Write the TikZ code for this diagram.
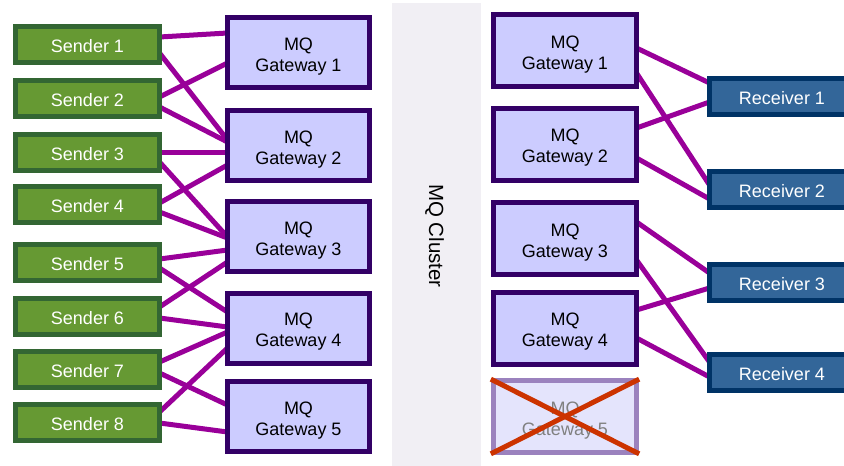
\documentclass[tikz,border=0pt]{standalone}
\usepackage{fontspec}
\setmainfont{Liberation Sans}
\usetikzlibrary{calc}
\definecolor{sendfill}{HTML}{669933}
\definecolor{sendline}{HTML}{336633}
\definecolor{gwfill}{HTML}{CCCCFF}
\definecolor{gwline}{HTML}{330066}
\definecolor{recvfill}{HTML}{336699}
\definecolor{recvline}{HTML}{003366}
\definecolor{link}{HTML}{990099}
\definecolor{clusterbg}{HTML}{F1EFF4}
\definecolor{deadfill}{HTML}{E4E4FC}
\definecolor{deadline}{HTML}{9B82BE}
\definecolor{cross}{HTML}{CC3300}
\pgfdeclarelayer{bg}
\pgfsetlayers{bg,main}
\tikzset{
  box/.style={rectangle, line width=5pt, inner sep=0pt, outer sep=0pt,
    align=center, font=\fontsize{18}{21}\selectfont},
  oneline/.style={box, text height=17.5pt, text depth=1pt},
  twoline/.style={box, text height=37pt, text depth=0pt},
  sender/.style={oneline, draw=sendline, fill=sendfill, text=white,
    minimum width=144pt, minimum height=36pt},
  gateway/.style={twoline, draw=gwline, fill=gwfill, text=black,
    minimum width=142pt, minimum height=70pt},
  rgateway/.style={gateway, minimum width=143pt, minimum height=72pt},
  deadgw/.style={rgateway, draw=deadline, fill=deadfill, text=black!50},
  receiver/.style={oneline, draw=recvline, fill=recvfill, text=white,
    minimum width=145pt, minimum height=36pt},
  link/.style={draw=link, line width=5pt},
  crossline/.style={draw=cross, line width=5pt}
}
\begin{document}
\begin{tikzpicture}[x=1pt, y=-1pt]
\useasboundingbox (0,0) rectangle (844,466);

% cluster band
\fill[clusterbg] (392,3) rectangle (481,466);
\node[rotate=-90, font=\fontsize{20.5}{24}\selectfont] (cluster) at (434.5,236) {MQ Cluster};

% senders
\foreach \i/\y in {1/44.5, 2/98, 3/152, 4/204, 5/262.5, 6/316, 7/369, 8/422.5}
  \node[sender] (s\i) at (87.5,\y) {Sender \i};

% gateways on the sender side
\foreach \i/\y in {1/52.5, 2/145.5, 3/236.5, 4/328, 5/416.5}
  \node[gateway] (g\i) at (298.5,\y) {MQ\\Gateway \i};

% gateways on the receiver side
\foreach \i/\y in {1/50.5, 2/144, 3/238.5, 4/328}
  \node[rgateway] (h\i) at (565,\y) {MQ\\Gateway \i};
\node[deadgw] (h5) at (565,416.5) {MQ\\Gateway 5};

% receivers
\foreach \i/\y in {1/96.5, 2/189.5, 3/282.5, 4/372}
  \node[receiver] (r\i) at (782,\y) {Receiver \i};

% links between senders and gateways
\begin{pgfonlayer}{bg}
\foreach \s/\a/\g/\b in {
    s1/-7.5/g1/-19.5, s1/8.5/g2/-5.5,
    s2/-1/g1/10.5,    s2/9/g2/-3.5,
    s3/0/g2/6.5,      s3/10/g3/0.5,
    s4/-1/g2/19.5,    s4/8/g3/1.5,
    s5/-3.5/g3/13.5,  s5/5.5/g4/-16,
    s6/-9/g3/25.5,    s6/2/g4/-1,
    s7/-7/g4/4,       s7/4/g5/-11.5,
    s8/-10.5/g4/20,   s8/0.5/g5/15.5}
  \draw[link] ($(\s.east)+(0,\a)$) -- ($(\g.west)+(0,\b)$);

% links between gateways and receivers
\foreach \g/\a/\r/\b in {
    h1/-2.5/r1/-13.5, h1/22.5/r2/-4.5,
    h2/-16/r1/5.5,    h2/14/r2/9.5,
    h3/-16.5/r3/-9.5, h3/21.5/r4/-10,
    h4/-18/r3/5.5,    h4/10/r4/5}
  \draw[link] ($(\g.east)+(0,\a)$) -- ($(\r.west)+(0,\b)$);
\end{pgfonlayer}

% failed gateway is crossed out
\draw[crossline, shorten <=-3pt, shorten >=-3pt] (h5.north west) -- (h5.south east);
\draw[crossline, shorten <=-3pt, shorten >=-3pt] (h5.south west) -- (h5.north east);
\end{tikzpicture}
\end{document}
